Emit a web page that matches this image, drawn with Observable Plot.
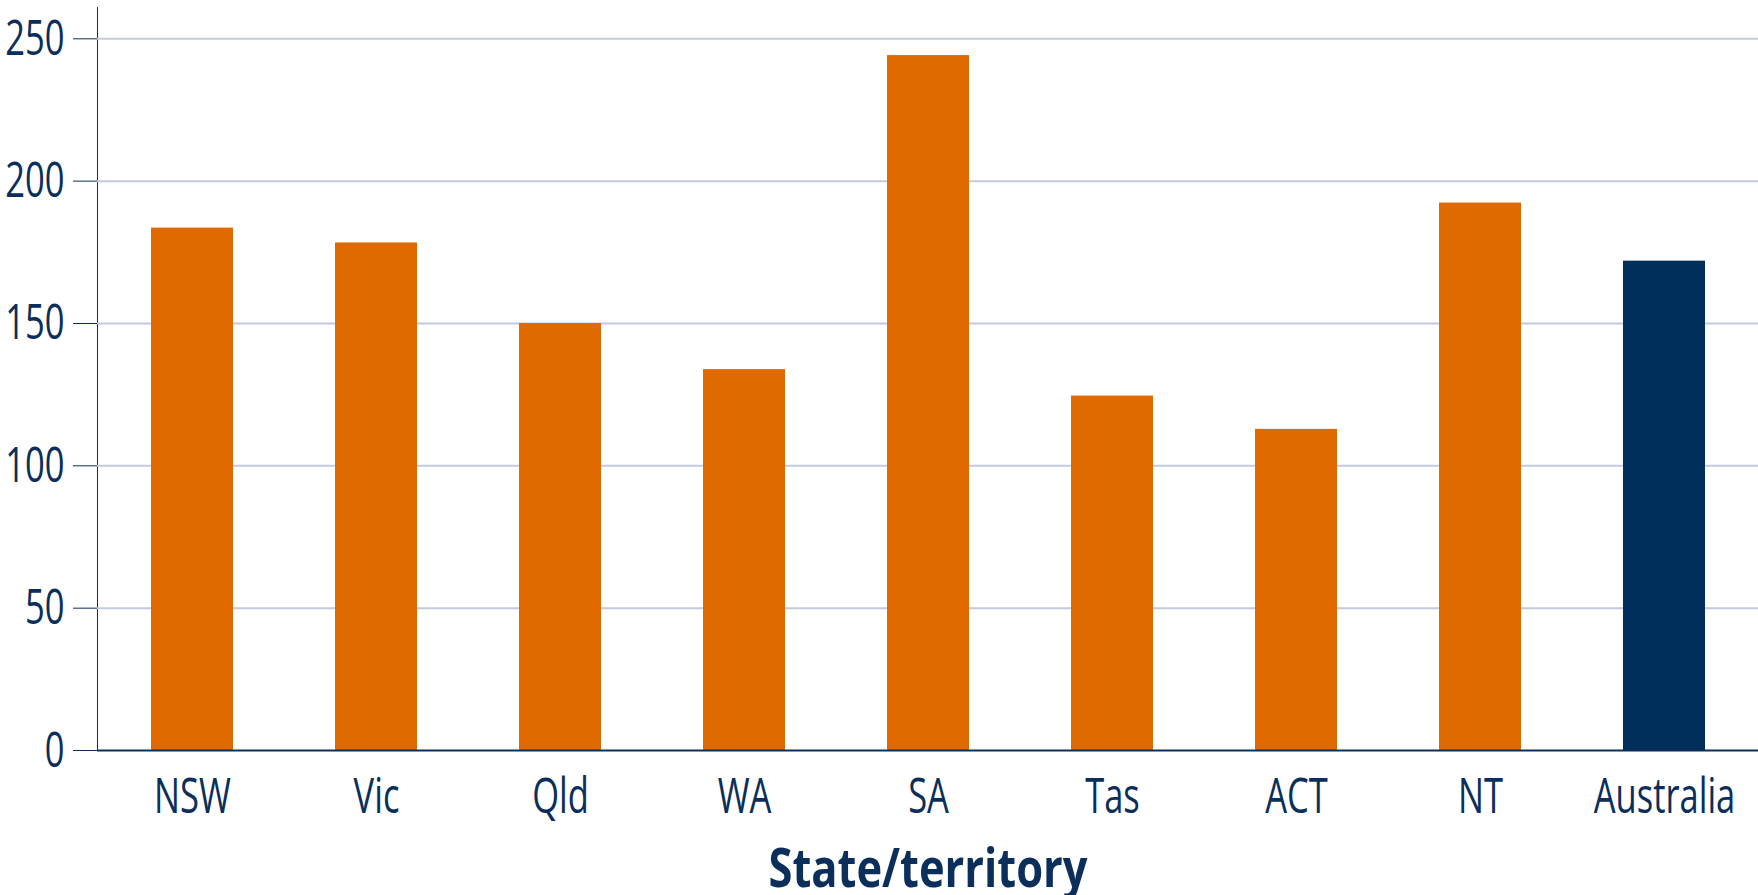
<!DOCTYPE html>
<html>
<head>
<meta charset="utf-8">
<script src="https://cdn.jsdelivr.net/npm/d3@7"></script>
<script src="https://cdn.jsdelivr.net/npm/@observablehq/plot@0.6"></script>
<style>
  html, body { margin: 0; padding: 0; background: #ffffff; }
  #chart svg { display: block; }
</style>
</head>
<body>
<div id="chart"></div>
<script>
// States and territories, plus the national figure
const states = ["NSW", "Vic", "Qld", "WA", "SA", "Tas", "ACT", "NT", "Australia"];
const values = [183.5, 178.3, 150.0, 133.8, 244.1, 124.5, 112.8, 192.3, 171.9];
const yTicks = [0, 50, 100, 150, 200, 250];
const xTitle = "State/territory";
const national = "Australia";

const orange = "#e06900";
const navy = "#002f5b";
const ink = "#0b2e5a";
const gridColor = "#c3cade";

const rows = states.map((s, i) => ({state: s, value: values[i]}));

const chart = Plot.plot({
  width: 1758,
  height: 895,
  marginTop: 7,
  marginLeft: 97,
  marginRight: 0,
  marginBottom: 145,
  style: {
    fontFamily: "'Open Sans', 'Noto Sans', sans-serif",
    fontSize: "50px",
    color: ink,
    background: "#ffffff"
  },
  x: {
    domain: states,
    paddingInner: 0.555,
    paddingOuter: 0.275,
    tickSize: 0,
    tickPadding: 27,
    label: null
  },
  y: {
    domain: [0, 261],
    ticks: yTicks,
    tickSize: 24,
    tickPadding: 9,
    line: true,
    label: null
  },
  marks: [
    Plot.ruleY(yTicks.filter(t => t > 0), {stroke: gridColor, strokeWidth: 2}),
    Plot.barY(rows, {
      x: "state",
      y: "value",
      fill: d => d.state === national ? navy : orange
    }),
    Plot.ruleY([0], {stroke: ink, strokeWidth: 2}),
    Plot.text([xTitle], {
      frameAnchor: "bottom",
      dy: 136,
      text: d => d,
      fontSize: 53,
      fontWeight: "bold",
      fill: ink
    })
  ]
});

d3.select(chart).selectAll("g[aria-label='y-axis'] path, g[aria-label='y-axis'] line")
  .attr("stroke-width", 2);
document.getElementById("chart").appendChild(chart);

// Narrow the lettering to a condensed width
d3.select(chart).selectAll("text").each(function () {
  const bold = this.getAttribute("font-weight") === "bold" ||
    (this.parentNode && this.parentNode.getAttribute && this.parentNode.getAttribute("font-weight") === "bold");
  const k = bold ? 0.82 : 0.69;
  const len = this.getComputedTextLength();
  if (len > 0) {
    this.setAttribute("textLength", (len * k).toFixed(1));
    this.setAttribute("lengthAdjust", "spacingAndGlyphs");
  }
});
</script>
</body>
</html>
